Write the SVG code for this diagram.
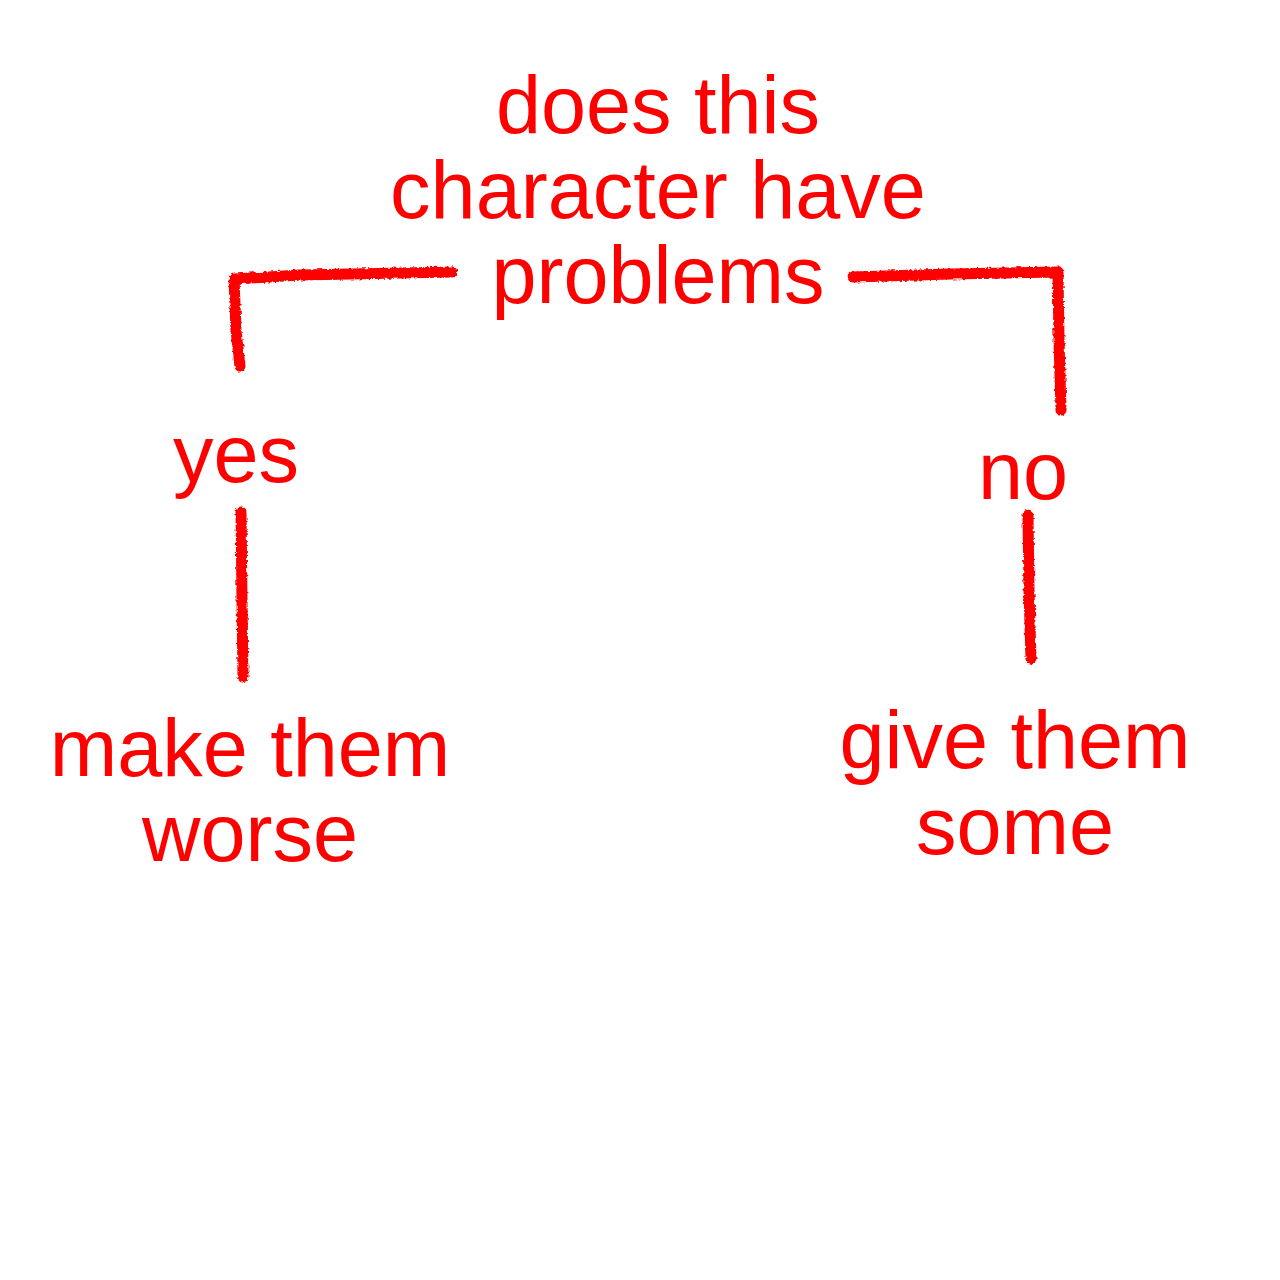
<svg xmlns="http://www.w3.org/2000/svg" width="1280" height="1280" viewBox="0 0 1280 1280">
<defs>
<filter id="rough" filterUnits="userSpaceOnUse" x="0" y="0" width="1280" height="1280">
<feTurbulence type="fractalNoise" baseFrequency="0.35" numOctaves="2" seed="3" result="n"/>
<feDisplacementMap in="SourceGraphic" in2="n" scale="4" xChannelSelector="R" yChannelSelector="G"/>
</filter>
</defs>
<style>
text{font-family:"Liberation Sans",Arial,sans-serif;font-size:81px;fill:#ff0000;text-anchor:middle}
.c{fill:none;stroke:#ff0000;stroke-width:11;stroke-linecap:round;stroke-linejoin:round;filter:url(#rough)}
</style>
<rect width="1280" height="1280" fill="#ffffff"/>
<g id="connectors">
<path class="c" d="M452,272 L300,275 L234,279 L236,330 L240,366"/>
<path class="c" d="M853,277 L950,274 L1058,272 L1059,340 L1061,410"/>
<path class="c" d="M241,512 L242,600 L243,677"/>
<path class="c" d="M1028,515 L1029,590 L1031,659"/>
</g>
<g id="question">
<text x="658" y="133">does this</text>
<text x="658" y="218">character have</text>
<text x="658" y="303">problems</text>
</g>
<g id="yes"><text x="236" y="482">yes</text></g>
<g id="no"><text x="1023" y="499">no</text></g>
<g id="make-worse">
<text x="250" y="776">make them</text>
<text x="250" y="861">worse</text>
</g>
<g id="give-some">
<text x="1015" y="768">give them</text>
<text x="1015" y="854">some</text>
</g>
</svg>
